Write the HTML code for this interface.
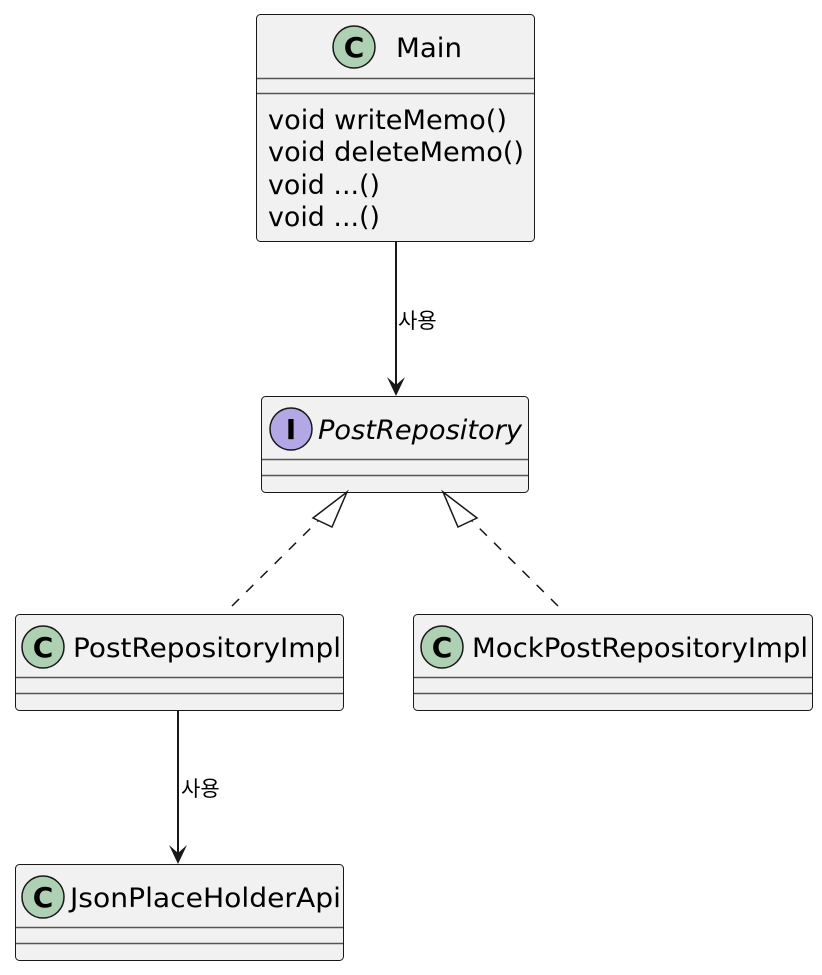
<!DOCTYPE html>
<html><head><meta charset="utf-8"><style>
html,body{margin:0;padding:0;background:#fff;}
text{font-family:"DejaVu Sans","Liberation Sans","Noto Sans CJK KR",sans-serif;fill:#000;}
</style></head><body>
<svg width="822" height="970" viewBox="0 0 822 970" xmlns="http://www.w3.org/2000/svg">
<g stroke="#181818" stroke-width="1" fill="#F1F1F1">
<rect x="256.5" y="14.5" width="278" height="227" rx="4"/>
<rect x="261.5" y="396.5" width="267" height="96" rx="4"/>
<rect x="15.5" y="614.5" width="328" height="96" rx="4"/>
<rect x="413.5" y="614.5" width="399" height="96" rx="4"/>
<rect x="15.5" y="864.5" width="328" height="96" rx="4"/>
</g>
<g stroke="#555" stroke-width="1.5">
<line x1="257" y1="78.5" x2="534" y2="78.5"/><line x1="257" y1="93.5" x2="534" y2="93.5"/>
<line x1="262" y1="459.5" x2="528" y2="459.5"/><line x1="262" y1="475.5" x2="528" y2="475.5"/>
<line x1="16" y1="677.5" x2="343" y2="677.5"/><line x1="16" y1="693.5" x2="343" y2="693.5"/>
<line x1="414" y1="677.5" x2="812" y2="677.5"/><line x1="414" y1="693.5" x2="812" y2="693.5"/>
<line x1="16" y1="927.5" x2="343" y2="927.5"/><line x1="16" y1="943.5" x2="343" y2="943.5"/>
</g>
<g stroke="#181818" stroke-width="1.5">
<circle cx="354" cy="47" r="21" fill="#ADD1B2"/>
<circle cx="291" cy="429" r="21" fill="#B4A7E5"/>
<circle cx="43" cy="647" r="21" fill="#ADD1B2"/>
<circle cx="442" cy="647" r="21" fill="#ADD1B2"/>
<circle cx="43" cy="897" r="21" fill="#ADD1B2"/>
</g>
<g font-weight="bold" font-size="28" text-anchor="middle">
<text x="354" y="57">C</text>
<text x="43" y="657">C</text>
<text x="442" y="657">C</text>
<text x="43" y="907">C</text>
<text x="291" y="439" font-family="Liberation Mono,monospace">I</text>
</g>
<g font-size="27">
<text x="396" y="57" textLength="66" lengthAdjust="spacingAndGlyphs">Main</text>
<text x="268" y="129" textLength="239" lengthAdjust="spacingAndGlyphs">void writeMemo()</text>
<text x="268" y="161" textLength="256" lengthAdjust="spacingAndGlyphs">void deleteMemo()</text>
<text x="268" y="194" textLength="112" lengthAdjust="spacingAndGlyphs">void ...()</text>
<text x="268" y="226" textLength="112" lengthAdjust="spacingAndGlyphs">void ...()</text>
<text x="318" y="439" font-style="italic" textLength="204" lengthAdjust="spacingAndGlyphs">PostRepository</text>
<text x="73" y="657" textLength="268" lengthAdjust="spacingAndGlyphs">PostRepositoryImpl</text>
<text x="472" y="657" textLength="336" lengthAdjust="spacingAndGlyphs">MockPostRepositoryImpl</text>
<text x="70" y="907" textLength="271" lengthAdjust="spacingAndGlyphs">JsonPlaceHolderApi</text>
</g>
<g stroke="#181818" stroke-width="2" fill="none">
<line x1="396" y1="241" x2="396" y2="394"/>
<line x1="178" y1="710" x2="178" y2="862"/>
</g>
<g fill="#181818">
<path d="M396,396 L387,377 L396,385 L405,377 Z"/>
<path d="M178,864 L169,845 L178,853 L187,845 Z"/>
</g>
<g font-size="21">
<text x="398" y="328">사용</text>
<text x="181" y="796">사용</text>
</g>
<g stroke="#181818" stroke-width="1.5" fill="none">
<line x1="232" y1="606" x2="323" y2="516" stroke-dasharray="10,10"/>
<line x1="558" y1="606" x2="467" y2="516" stroke-dasharray="10,10"/>
<path d="M347,492 L313,518 L332,527 Z" fill="#fff"/>
<path d="M443,492 L458,527 L477,518 Z" fill="#fff"/>
</g>
</svg>
</body></html>
